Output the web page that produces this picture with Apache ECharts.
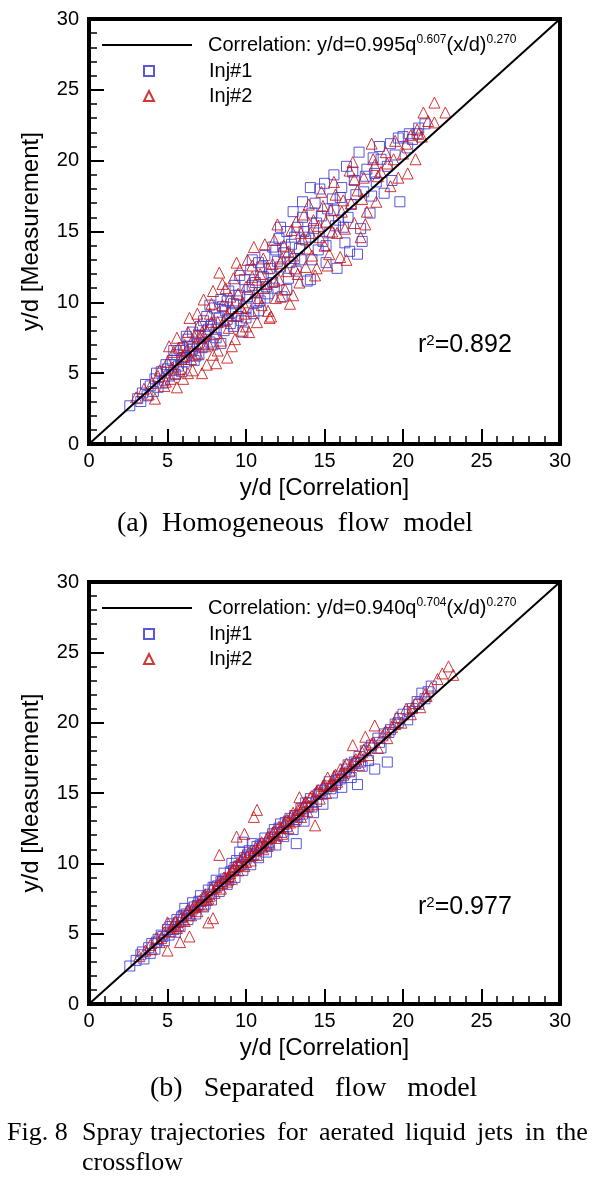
<!DOCTYPE html>
<html>
<head>
<meta charset="utf-8">
<script src="https://cdn.jsdelivr.net/npm/echarts@6/dist/echarts.min.js"></script>
<style>
html,body{margin:0;padding:0;background:#fff;}
#chart{width:600px;height:1181px;}
</style>
</head>
<body>
<div id="chart"></div>
<script>
// ---------- data ----------
const correlationLine = [[0, 0], [30, 30]];

// (a) Homogeneous flow model
const homInj1 = [
[2.6,2.7],[3.1,3.2],[3.4,3.6],[3.7,3.4],[3.9,4.1],[4.2,4.6],[4.4,4.0],[4.6,5.1],[4.8,4.5],[5.0,5.3],
[5.1,4.8],[5.3,5.9],[5.4,5.2],[5.6,6.3],[5.7,5.5],[5.9,6.0],[6.0,6.8],[6.2,5.8],[6.3,7.4],[6.5,6.5],
[6.6,7.9],[6.8,6.2],[6.9,7.1],[7.1,8.3],[7.2,6.8],[7.4,7.6],[7.5,9.0],[7.7,7.2],[7.8,8.4],[8.0,9.6],
[8.1,7.5],[8.3,8.9],[8.4,10.2],[8.6,8.0],[8.7,9.4],[8.9,10.8],[9.0,8.5],[9.2,9.9],[9.3,11.2],[9.5,9.0],
[9.6,10.5],[9.8,7.9],[9.9,11.6],[10.0,9.6],[10.2,10.9],[10.3,12.3],[10.5,9.2],[10.6,11.4],[10.8,12.8],[10.9,10.1],
[11.1,11.8],[11.2,13.3],[11.4,10.6],[11.5,12.4],[11.7,13.9],[11.8,11.0],[12.0,12.9],[12.1,14.5],[12.3,10.4],[12.4,13.5],
[12.6,15.0],[12.7,11.7],[12.9,14.1],[13.0,16.4],[13.2,12.2],[13.3,15.3],[13.5,13.0],[13.6,16.0],[13.8,14.4],[13.9,11.5],
[14.1,18.1],[14.1,11.6],[14.3,15.2],[14.4,17.0],[14.6,13.7],[14.8,16.1],[15.0,18.4],[15.1,12.8],[15.3,14.9],[15.5,17.3],
[15.6,19.0],[15.8,12.4],[15.9,15.8],[16.1,18.1],[16.3,14.2],[16.4,19.6],[16.6,13.6],[16.7,16.9],[16.9,18.6],[17.1,13.4],
[17.2,20.6],[17.3,15.2],[17.5,17.8],[17.7,19.4],[17.9,16.3],[18.1,20.2],[18.3,18.5],[18.5,21.0],[18.8,17.7],[19.0,19.6],
[19.2,21.2],[19.5,20.4],[19.8,17.1],[20.0,21.7],[20.3,20.9],[20.6,21.5],[20.9,21.9],[21.4,22.6],
[5.2,5.6],[5.5,4.9],[5.8,6.6],[6.1,6.1],[6.4,6.9],[6.7,5.9],[7.0,7.7],[7.3,7.0],[7.6,8.1],[7.9,7.0],
[8.2,8.6],[8.5,9.7],[8.8,8.8],[9.1,9.3],[9.4,10.1],[9.7,8.7],[10.1,10.4],[10.4,11.2],[10.7,10.0],[11.0,12.5],
[11.3,11.1],[11.6,12.0],[11.9,13.7],[12.2,12.5],[12.5,13.9],[12.8,12.8],[13.1,14.6],[13.4,13.8],[13.7,15.0],[14.0,14.6],
[14.2,16.3],[14.5,15.6],[14.9,14.3],[15.2,16.6],[15.7,15.4],[16.0,17.4],[16.5,16.0],[17.0,17.6],[17.6,18.9],[18.2,19.1],
[3.3,3.0],[3.6,4.2],[4.1,3.7],[4.3,5.0],[4.7,4.3],[4.9,5.6],[5.4,6.6],[5.9,5.1],[6.2,7.6],[6.6,6.7],
[7.0,6.3],[7.3,8.7],[7.7,9.8],[8.1,8.1],[8.4,7.1],[8.8,10.1],[9.2,8.3],[9.6,11.9],[10.0,8.9],[10.4,13.0],
[10.8,9.4],[11.2,10.3],[11.7,11.4],[12.2,15.3],[12.6,10.9],[13.1,13.1],[13.6,17.1],[14.2,13.0],[14.7,18.0],[15.1,14.0],
[15.6,16.5],[16.2,15.3],[16.8,19.2],[17.4,14.3],[18.0,17.5],[18.6,20.1],[19.3,18.6],[19.7,21.6],[20.4,21.9],[21.0,22.3]
];
const homInj2 = [
[3.0,3.3],[3.5,3.9],[4.0,4.3],[4.2,3.2],[4.5,5.2],[4.8,4.1],[5.0,5.8],[5.2,4.6],[5.4,6.5],[5.6,4.0],
[5.6,7.5],[5.8,5.3],[6.0,6.2],[6.1,7.0],[6.3,5.0],[6.4,8.9],[6.6,5.2],[6.7,7.6],[6.9,6.4],[7.0,8.4],
[7.2,5.0],[7.3,10.2],[7.4,6.9],[7.5,8.0],[7.7,9.2],[7.9,10.8],[7.9,6.3],[8.1,5.7],[8.2,8.6],[8.3,12.1],
[8.4,7.3],[8.5,9.8],[8.7,11.0],[8.8,6.1],[8.9,8.2],[9.0,10.4],[9.2,11.7],[9.3,7.4],[9.4,9.1],[9.6,12.3],
[9.7,8.0],[9.8,10.0],[10.0,11.1],[10.1,13.0],[10.2,7.9],[10.3,9.4],[10.5,13.9],[10.6,10.7],[10.7,8.6],[10.9,12.0],
[11.0,9.8],[11.2,14.1],[11.3,11.3],[11.5,8.9],[11.6,9.0],[11.7,12.7],[11.9,10.3],[12.0,15.5],[12.1,11.6],[12.2,10.4],
[12.4,14.0],[12.6,12.2],[12.8,9.9],[13.0,10.5],[13.0,13.3],[13.2,15.7],[13.4,11.4],[13.6,14.5],[13.8,12.5],[14.0,16.9],
[14.2,13.3],[14.4,11.9],[14.6,15.4],[14.8,17.8],[15.0,14.0],[15.2,12.6],[15.4,16.5],[15.6,18.5],[15.8,14.9],[16.0,13.2],
[16.2,17.2],[16.4,13.0],[16.6,19.3],[16.8,19.9],[16.9,15.6],[17.1,17.9],[17.3,14.6],[17.5,18.8],[17.7,16.4],[18.0,21.2],
[18.1,20.1],[18.3,17.1],[18.6,19.2],[18.9,20.6],[19.2,18.2],[19.5,21.4],[19.7,18.8],[20.0,20.5],[20.3,19.1],[20.5,21.8],
[20.8,20.1],[20.9,22.2],[21.0,21.9],[21.2,21.7],[21.3,23.4],[22.0,22.7],[22.0,24.1],[22.7,23.4],
[5.3,5.4],[5.9,6.0],[6.2,6.6],[6.5,6.0],[6.8,7.1],[7.1,7.5],[7.6,7.1],[7.8,8.6],[8.0,7.8],[8.6,8.7],
[9.1,9.6],[9.5,10.6],[9.9,9.2],[10.4,11.8],[10.8,10.3],[11.1,11.0],[11.4,12.4],[11.8,11.5],[12.3,13.1],[12.7,13.6],
[13.1,12.4],[13.5,14.9],[13.9,13.8],[14.3,15.8],[14.7,14.6],[15.1,15.7],[15.5,15.0],[16.1,16.4],[16.7,17.0],[17.4,17.3],
[18.4,18.9],[19.0,19.8],
[3.8,3.5],[4.4,4.8],[4.9,4.4],[5.1,6.9],[5.5,5.0],[5.7,6.8],[6.0,4.6],[6.3,7.9],[6.6,6.3],[6.9,9.2],
[7.2,7.9],[7.5,5.6],[7.8,9.9],[8.2,6.6],[8.5,11.3],[8.8,9.1],[9.1,6.9],[9.4,12.8],[9.7,9.6],[10.0,8.3],
[10.4,12.6],[10.7,11.6],[11.1,13.1],[11.4,9.4],[11.8,14.4],[12.2,12.8],[12.5,10.9],[12.9,15.1],[13.3,12.0],[13.7,16.2],
[14.1,14.9],[14.5,12.4],[14.9,16.8],[15.3,13.4],[15.7,17.6],[16.3,15.2],[16.9,18.7],[17.6,15.5],[18.2,19.7],[19.4,20.1],
[20.2,21.2],[21.6,22.8]
];

// (b) Separated flow model
const sepInj1 = [
[2.6,2.7],[3.0,3.1],[3.3,3.5],[3.5,3.2],[3.8,4.0],[4.0,4.3],[4.2,3.9],[4.4,4.6],[4.6,4.9],[4.8,4.5],
[5.0,5.3],[5.1,4.9],[5.3,5.7],[5.5,5.1],[5.6,6.0],[5.8,5.5],[6.0,6.3],[6.1,6.8],[6.3,6.0],[6.5,6.6],
[6.6,7.2],[6.8,6.4],[7.0,7.3],[7.1,7.7],[7.3,6.9],[7.5,7.6],[7.6,8.1],[7.8,7.4],[8.0,8.3],[8.1,8.8],
[8.3,8.0],[8.5,8.7],[8.6,9.3],[8.8,8.5],[9.0,9.4],[9.1,10.0],[9.3,9.0],[9.5,9.8],[9.6,10.8],[9.8,11.5],
[9.8,9.5],[10.0,10.3],[10.2,10.9],[10.3,9.9],[10.5,10.6],[10.7,11.2],[10.8,10.4],[11.0,11.1],[11.2,11.8],[11.3,10.8],
[11.5,11.5],[11.7,12.1],[11.9,11.3],[12.0,12.2],[12.2,12.8],[12.4,11.9],[12.6,12.6],[12.8,13.2],[13.0,12.4],[13.2,11.4],
[13.3,13.3],[13.5,13.9],[13.7,13.0],[13.9,14.0],[14.1,14.6],[14.3,13.6],[14.5,14.4],[14.7,15.0],[14.9,14.2],[15.1,15.3],
[15.3,15.8],[15.5,15.0],[15.7,15.6],[15.9,16.2],[16.1,15.4],[16.3,16.4],[16.5,17.0],[16.7,16.1],[16.9,17.2],[17.1,15.6],
[17.2,17.6],[17.4,16.9],[17.6,18.0],[17.8,17.3],[18.0,18.4],[18.2,16.7],[18.4,18.9],[18.6,18.2],[18.8,19.2],[19.0,17.2],
[19.2,19.5],[19.5,19.9],[19.8,20.3],[20.0,20.6],[20.3,20.2],[20.6,21.0],[20.9,21.5],[21.2,22.1],[21.4,21.7],[21.8,22.6],
[5.2,5.5],[5.7,5.8],[6.2,6.4],[6.7,6.9],[7.2,7.3],[7.7,7.8],[8.2,8.4],[8.7,8.9],[9.2,9.5],[9.7,9.9],
[10.1,10.6],[10.6,10.9],[11.1,11.4],[11.6,11.8],[12.1,12.5],[12.5,12.9],[13.1,13.4],[13.6,13.5],[14.0,14.3],[14.6,14.9],
[15.2,15.5],[15.8,15.9],[16.4,16.7],[17.0,17.1],[9.4,10.2],[10.4,11.4],
[3.4,3.7],[3.9,3.6],[4.3,4.4],[4.7,4.8],[5.4,5.3],[5.9,6.2],[6.4,6.3],[6.9,7.0],[7.4,7.1],[7.9,8.3],
[8.4,8.7],[8.9,8.8],[9.3,9.7],[9.9,10.4],[10.3,10.5],[10.9,11.3],[11.4,11.2],[11.8,12.4],[12.3,12.2],[12.7,13.0],
[13.2,13.1],[13.8,14.3],[14.2,14.0],[14.8,15.2],[15.4,15.3],[16.0,16.0],[16.6,16.5],[17.3,17.2],[17.9,18.2],[18.5,18.6],
[19.1,19.3],[19.7,20.0],[20.4,20.8],[21.0,21.3],[21.6,22.2]
];
const sepInj2 = [
[3.2,3.4],[3.6,3.8],[4.0,3.9],[4.3,4.7],[4.5,4.4],[4.8,5.1],[5.0,3.8],[5.0,5.8],[5.2,5.2],[5.4,5.7],
[5.6,5.4],[5.8,4.4],[5.9,6.2],[6.1,5.9],[6.3,6.7],[6.4,4.8],[6.5,6.3],[6.7,7.0],[6.9,6.6],[7.1,7.4],
[7.2,7.0],[7.4,7.8],[7.6,5.8],[7.6,7.5],[7.8,8.2],[7.9,6.1],[8.0,7.9],[8.2,8.6],[8.3,10.6],[8.4,8.2],
[8.6,9.0],[8.8,8.7],[9.0,9.3],[9.1,8.9],[9.3,9.8],[9.4,11.9],[9.5,9.5],[9.7,10.2],[9.9,12.1],[9.9,9.8],
[10.1,10.5],[10.3,10.2],[10.5,13.3],[10.5,10.9],[10.7,13.8],[10.7,10.6],[10.9,11.3],[11.1,11.0],[11.3,11.7],[11.5,11.4],
[11.7,12.2],[11.9,11.8],[12.1,12.6],[12.3,12.1],[12.5,13.0],[12.7,12.5],[12.9,13.4],[13.1,13.0],[13.3,13.8],[13.4,14.7],
[13.5,13.3],[13.7,14.2],[13.9,13.7],[14.1,14.7],[14.3,14.2],[14.4,12.7],[14.5,15.1],[14.7,14.6],[14.9,15.5],[15.1,15.0],
[15.2,16.1],[15.4,15.6],[15.6,16.2],[15.8,15.8],[16.0,16.7],[16.2,16.3],[16.4,17.1],[16.6,16.6],[16.8,18.4],[17.0,17.4],
[17.2,17.0],[17.4,17.9],[17.6,19.0],[17.8,17.7],[18.0,18.5],[18.2,19.8],[18.4,18.2],[18.7,19.1],[19.0,18.9],[19.3,19.7],
[19.6,20.4],[19.9,20.0],[20.2,21.0],[20.5,20.6],[20.8,21.4],[21.1,21.1],[21.4,22.0],[21.8,22.5],[22.2,23.1],[22.5,23.5],
[22.9,24.0],[23.2,23.4],
[5.5,5.9],[6.0,6.0],[6.6,6.8],[7.0,7.1],[7.5,7.4],[8.1,8.3],[8.5,8.6],[8.9,9.1],[9.2,9.6],[9.6,9.9],
[10.0,10.1],[10.4,10.6],[10.8,11.1],[11.2,11.3],[11.6,11.9],[12.0,12.0],[12.4,12.8],[12.8,12.9],[13.2,13.5],[13.6,13.9],
[14.0,14.1],[14.8,15.0],[15.5,15.7],[16.1,16.5],[16.7,17.0],[17.3,17.6],
[3.9,4.2],[4.6,4.7],[5.3,5.5],[5.7,5.6],[6.2,6.5],[6.8,6.9],[7.3,7.6],[7.7,7.7],[8.3,8.5],[8.7,9.0],
[9.1,9.5],[9.5,10.0],[9.8,10.5],[10.2,10.8],[10.6,11.1],[11.0,11.5],[11.4,11.9],[11.8,12.3],[12.2,12.5],[12.6,13.1],
[13.0,13.6],[13.4,13.8],[13.8,14.4],[14.2,14.8],[14.6,15.2],[15.0,15.6],[15.3,15.5],[15.7,16.3],[16.3,16.9],[16.9,17.3],
[17.5,18.1],[18.1,18.6],[18.9,19.4],[19.5,19.9],[20.6,21.1],[21.5,21.9]
];

const legendLabels = {
  'Correlation a': 'Correlation: y/d=0.995q{sup|0.607}(x/d){sup|0.270}',
  'Correlation b': 'Correlation: y/d=0.940q{sup|0.704}(x/d){sup|0.270}',
  'Inj#1': 'Inj#1',
  'Inj#2': 'Inj#2'
};
const r2Labels = ['r{sup|2}=0.892', 'r{sup|2}=0.977'];
const xName = 'y/d [Correlation]';
const yName = 'y/d [Measurement]';
const subCaptions = ['(a)  Homogeneous  flow  model', '(b)   Separated   flow   model'];
const figCaption1 = ['Fig. 8', 'Spray', 'trajectories', 'for', 'aerated', 'liquid', 'jets', 'in', 'the'];
const figCaption2 = 'crossflow';

// ---------- styling / layout ----------
const SANS = 'Liberation Sans, Arial, sans-serif';
const SERIF = 'Liberation Serif, Times New Roman, serif';
const BLUE = '#3b3bd6';
const RED = '#c81414';
const grids = [
  {left: 89, top: 19, width: 471, height: 425},
  {left: 89, top: 582, width: 471, height: 422}
];

function mainX(gi){
  return {
    type: 'value', gridIndex: gi, position: 'bottom', min: 0, max: 30, interval: 5,
    name: xName, nameLocation: 'middle', nameGap: 32,
    nameTextStyle: {fontSize: 24, fontFamily: SANS, color: '#000'},
    axisLine: {show: true, onZero: false, lineStyle: {color: '#000', width: 4, cap: 'square'}},
    axisTick: {show: true, inside: true, length: 15, lineStyle: {color: '#000', width: 2}},
    minorTick: {show: true, splitNumber: 5, length: 8, lineStyle: {color: '#000', width: 1.5}},
    axisLabel: {fontSize: 20, fontFamily: SANS, color: '#000', margin: 7},
    splitLine: {show: false}
  };
}
function mainY(gi){
  return {
    type: 'value', gridIndex: gi, position: 'left', min: 0, max: 30, interval: 5,
    name: yName, nameLocation: 'middle', nameGap: 46,
    nameTextStyle: {fontSize: 24, fontFamily: SANS, color: '#000'},
    axisLine: {show: true, onZero: false, lineStyle: {color: '#000', width: 4, cap: 'square'}},
    axisTick: {show: true, inside: true, length: 15, lineStyle: {color: '#000', width: 2}},
    minorTick: {show: true, splitNumber: 5, length: 8, lineStyle: {color: '#000', width: 1.5}},
    axisLabel: {fontSize: 20, fontFamily: SANS, color: '#000', margin: 10},
    splitLine: {show: false}
  };
}
function frameAxis(gi, pos){
  return {
    type: 'value', gridIndex: gi, position: pos, min: 0, max: 30,
    axisLine: {show: true, onZero: false, lineStyle: {color: '#000', width: 4, cap: 'square'}},
    axisTick: {show: false}, axisLabel: {show: false}, splitLine: {show: false}
  };
}

function legendText(padLeft){
  return {
    fontSize: 20, fontFamily: SANS, color: '#000', lineHeight: 22, padding: [0, 0, 0, padLeft],
    rich: {sup: {fontSize: 12, fontFamily: SANS, color: '#000', verticalAlign: 'top', lineHeight: 12}}
  };
}
function legendLine(name, centerY){
  return {
    data: [name], orient: 'vertical', left: 102, top: centerY - 11, padding: 0,
    icon: 'rect', itemWidth: 90, itemHeight: 2, selectedMode: false,
    textStyle: legendText(11), formatter: n => legendLabels[n]
  };
}
function legendMark(name, centerY){
  return {
    data: [name], orient: 'vertical', left: 143, top: centerY - 11, padding: 0,
    itemWidth: 10, itemHeight: 10, selectedMode: false,
    textStyle: legendText(50), formatter: n => legendLabels[n]
  };
}

function scatter(name, data, gi, symbol, color, size){
  return {
    type: 'scatter', name: name, xAxisIndex: gi * 2, yAxisIndex: gi * 2,
    data: data, symbol: symbol, symbolSize: size,
    itemStyle: {color: 'rgba(255,255,255,0)', borderColor: color, borderWidth: 1, opacity: 0.85},
    emphasis: {disabled: true}, z: 3
  };
}
function corr(name, gi){
  return {
    type: 'line', name: name, xAxisIndex: gi * 2, yAxisIndex: gi * 2,
    data: correlationLine, symbol: 'none', showSymbol: false,
    lineStyle: {color: '#000', width: 2}, itemStyle: {color: '#000'}, z: 4
  };
}

const graphics = [];
r2Labels.forEach((t, i) => {
  graphics.push({
    type: 'text', left: 418, top: (i === 0 ? 333 : 895),
    style: {text: t, fill: '#000', font: '25px ' + SANS,
      rich: {sup: {fontSize: 15, fontFamily: SANS, fill: '#000', verticalAlign: 'top', lineHeight: 15}}}
  });
});
graphics.push({type: 'text', left: 117, top: 510,
  style: {text: subCaptions[0], fill: '#000', font: '28px ' + SERIF}});
graphics.push({type: 'text', left: 150, top: 1075,
  style: {text: subCaptions[1], fill: '#000', font: '28px ' + SERIF}});
// justified first caption line
const capStarts = [7, 82, 150, 277, 319, 405, 477, 525, 556];
figCaption1.forEach((w, i) => {
  graphics.push({type: 'text', left: capStarts[i], top: 1120,
    style: {text: w, fill: '#000', font: '26px ' + SERIF}});
});
graphics.push({type: 'text', left: 82, top: 1150,
  style: {text: figCaption2, fill: '#000', font: '26px ' + SERIF}});

const option = {
  animation: false,
  backgroundColor: '#fff',
  grid: grids,
  xAxis: [mainX(0), frameAxis(0, 'top'), mainX(1), frameAxis(1, 'top')],
  yAxis: [mainY(0), frameAxis(0, 'right'), mainY(1), frameAxis(1, 'right')],
  legend: [
    legendLine('Correlation a', 45), legendMark('Inj#1', 71), legendMark('Inj#2', 96),
    legendLine('Correlation b', 608), legendMark('Inj#1', 634), legendMark('Inj#2', 659)
  ],
  series: [
    corr('Correlation a', 0),
    scatter('Inj#1', homInj1, 0, 'rect', BLUE, 10),
    scatter('Inj#2', homInj2, 0, 'triangle', RED, 11),
    corr('Correlation b', 1),
    scatter('Inj#1', sepInj1, 1, 'rect', BLUE, 10),
    scatter('Inj#2', sepInj2, 1, 'triangle', RED, 11)
  ],
  graphic: graphics
};

const chart = echarts.init(document.getElementById('chart'), null, {renderer: 'canvas'});
chart.setOption(option);
</script>
</body>
</html>
